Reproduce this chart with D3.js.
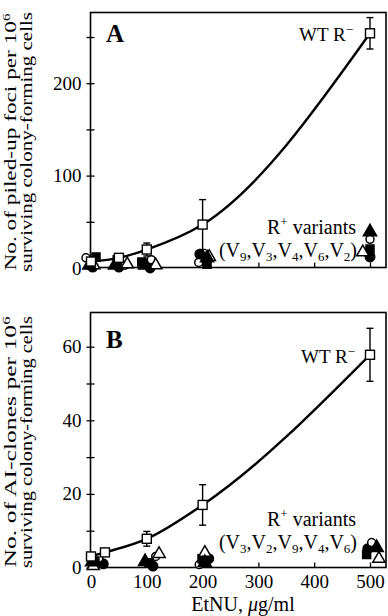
<!DOCTYPE html>
<html>
<head>
<meta charset="utf-8">
<script src="https://d3js.org/d3.v7.min.js"></script>
<style>
  body { margin: 0; background: white; }
  svg { font-family: "Liberation Serif", "Times New Roman", serif; }
</style>
</head>
<body>
<svg id="chart" width="388" height="616"></svg>
<script>
// x ticks (EtNU dose)
const xTicks = [0, 100, 200, 300, 400, 500];

// panel A: piled-up foci, wild type R-
const wtA_dose = [0, 50, 100, 200, 500];
const wtA_val = [7, 11, 20, 47, 254];
const wtA_err = [0, 0, 7, 27, 17];
const yTicksA = [0, 50, 100, 150, 200, 250];
const yLabelsA = [0, 100, 200];

// panel A: R+ variants  [dose, value]
const varA_fc = [[3, 1], [50, 1], [106, 0], [195, 15], [500, 12]];
const varA_oc = [[-9, 11], [61, 3], [108, 9], [193, 6], [500, 31]];
const varA_fs = [[9, 12], [47, 9], [91, 6.5], [208, 4], [500, 20.5]];
const varA_ot = [[5, 3], [65, 4], [116, 3], [212, 12], [487, 17]];
const varA_ft = [[-3, 3], [43, 3], [97, 3], [208, 11], [500, 39]];

// panel B: AI-clones, wild type R-
const wtB_dose = [0, 25, 100, 200, 500];
const wtB_val = [3, 4.1, 7.8, 17, 57.8];
const wtB_err = [0, 0, 2, 5.5, 7.2];
const yTicksB = [0, 10, 20, 30, 40, 50, 60];
const yLabelsB = [0, 20, 40, 60];

// panel B: R+ variants
const varB_fc = [[22, 1], [111, 0.4], [211, 2.4], [496, 5.1]];
const varB_oc = [[14, 2.6], [116, 3], [194, 0.8], [503, 6.8]];
const varB_fs = [[7, 1.8], [104, 1.3], [199, 2.4], [494, 3.5]];
const varB_ot = [[4, 0.4], [122, 3.7], [204, 4], [516, 2.4]];
const varB_ft = [[2, 1.5], [97, 1.6], [204, 1.3], [512, 5.4]];

const svg = d3.select("#chart");
const x = d3.scaleLinear().domain([0, 500]).range([91, 370]);

function panel(opt) {
  const y = d3.scaleLinear().domain(opt.ydom).range(opt.yrange);
  const g = svg.append("g");

  // frame
  g.append("rect")
    .attr("x", 90.5).attr("y", opt.top)
    .attr("width", 386 - 90.5).attr("height", opt.bottom - opt.top)
    .attr("fill", "none").attr("stroke", "black").attr("stroke-width", 1.6);

  // y axis
  const ya = g.append("g").attr("transform", "translate(90.5,0)")
    .call(d3.axisLeft(y).tickValues(opt.yticks)
      .tickFormat(d => opt.ylabels.includes(d) ? d : "")
      .tickSizeInner(4).tickSizeOuter(0).tickPadding(5));
  ya.select(".domain").remove();
  ya.selectAll(".tick line").attr("x1", 4).attr("stroke-width", 1.3);
  ya.selectAll("text").attr("font-size", 19).attr("font-family", "Liberation Serif").attr("fill", "black");

  // x axis
  const xa = g.append("g").attr("transform", `translate(0,${opt.bottom})`)
    .call(d3.axisBottom(x).tickValues(xTicks)
      .tickFormat(opt.xlabels ? d => d : "")
      .tickSizeInner(-5).tickSizeOuter(0).tickPadding(7));
  xa.select(".domain").remove();
  xa.selectAll(".tick line").attr("stroke-width", 1.3);
  xa.selectAll("text").attr("font-size", 19).attr("font-family", "Liberation Serif").attr("fill", "black");

  // variants
  const sym = (type, size) => d3.symbol().type(type).size(size)();
  const kinds = [
    [opt.fc, d3.symbolCircle, 70, "black"],
    [opt.oc, d3.symbolCircle, 50, "white"],
    [opt.fs, d3.symbolSquare, 64, "black"],
    [opt.ot, d3.symbolTriangle, 65, "white"],
    [opt.ft, d3.symbolTriangle, 75, "black"]
  ];
  kinds.forEach(([data, type, size, fill]) => {
    g.selectAll(null).data(data).join("path")
      .attr("d", sym(type, size))
      .attr("transform", d => `translate(${x(d[0])},${y(d[1])})`)
      .attr("fill", fill).attr("stroke", "black").attr("stroke-width", 1.5);
  });

  // WT curve
  const pts = opt.dose.map((d, i) => [d, opt.val[i], opt.err[i]]);
  g.append("path").datum(pts)
    .attr("d", d3.line().x(d => x(d[0])).y(d => y(d[1])).curve(d3.curveMonotoneX))
    .attr("fill", "none").attr("stroke", "black").attr("stroke-width", 2.4);

  // error bars
  const eb = pts.filter(d => d[2] > 0);
  g.selectAll(null).data(eb).join("line")
    .attr("x1", d => x(d[0])).attr("x2", d => x(d[0]))
    .attr("y1", d => y(d[1] - d[2])).attr("y2", d => y(d[1] + d[2]))
    .attr("stroke", "black").attr("stroke-width", 1.4);
  [-1, 1].forEach(s => {
    g.selectAll(null).data(eb).join("line")
      .attr("x1", d => x(d[0]) - 3.5).attr("x2", d => x(d[0]) + 3.5)
      .attr("y1", d => y(d[1] + s * d[2])).attr("y2", d => y(d[1] + s * d[2]))
      .attr("stroke", "black").attr("stroke-width", 1.4);
  });

  // WT squares
  g.selectAll(null).data(pts).join("rect")
    .attr("x", d => x(d[0]) - 4.5).attr("y", d => y(d[1]) - 4.5)
    .attr("width", 9).attr("height", 9)
    .attr("fill", "white").attr("stroke", "black").attr("stroke-width", 1.4);

  // panel letter
  g.append("text").attr("x", 106).attr("y", opt.letterY)
    .attr("font-size", 25).attr("font-weight", "bold").text(opt.letter);

  // WT R-
  const wt = g.append("text").attr("x", opt.wtX).attr("y", opt.wtY).attr("font-size", 19);
  wt.append("tspan").text("WT R");
  wt.append("tspan").attr("font-size", 13).attr("dy", -7).text("\u2212");

  // R+ variants
  const rv = g.append("text").attr("x", 356).attr("y", opt.rvY).attr("font-size", 20)
    .attr("text-anchor", "end");
  rv.append("tspan").text("R");
  rv.append("tspan").attr("font-size", 13).attr("dy", -8).text("+");
  rv.append("tspan").attr("dy", 8).text(" variants");

  const vl = g.append("text").attr("x", 357).attr("y", opt.rvY + 23).attr("font-size", 20)
    .attr("text-anchor", "end");
  vl.append("tspan").text("(");
  opt.vlist.forEach((v, i) => {
    vl.append("tspan").attr("dy", i === 0 ? 0 : -4).text((i ? "," : "") + "V");
    vl.append("tspan").attr("font-size", 13).attr("dy", 4).text(v);
  });
  vl.append("tspan").attr("dy", -4).text(")");

  // y title, two lines
  const cy = (opt.top + opt.bottom) / 2 + 2;
  const t1 = g.append("text").attr("transform", `translate(16,${cy}) rotate(-90)`)
    .attr("text-anchor", "middle").attr("font-size", 17)
    .attr("textLength", opt.t1len).attr("lengthAdjust", "spacingAndGlyphs");
  t1.append("tspan").text(opt.title1);
  t1.append("tspan").attr("font-size", 11).attr("dy", -6).text("6");
  g.append("text").attr("transform", `translate(32,${cy}) rotate(-90)`)
    .attr("text-anchor", "middle").attr("font-size", 17)
    .attr("textLength", opt.t2len).attr("lengthAdjust", "spacingAndGlyphs")
    .text("surviving colony-forming cells");
}

panel({
  ydom: [0, 250], yrange: [268, 37], top: 12.5, bottom: 267.5,
  yticks: yTicksA, ylabels: yLabelsA, xlabels: false,
  dose: wtA_dose, val: wtA_val, err: wtA_err,
  fc: varA_fc, oc: varA_oc, fs: varA_fs, ot: varA_ot, ft: varA_ft,
  letter: "A", letterY: 42, wtX: 299, wtY: 41, rvY: 234,
  vlist: ["9", "3", "4", "6", "2"],
  title1: "No. of piled-up foci per 10", t1len: 257, t2len: 260
});

panel({
  ydom: [0, 60], yrange: [567.5, 346.7], top: 312.5, bottom: 567.5,
  yticks: yTicksB, ylabels: yLabelsB, xlabels: true,
  dose: wtB_dose, val: wtB_val, err: wtB_err,
  fc: varB_fc, oc: varB_oc, fs: varB_fs, ot: varB_ot, ft: varB_ft,
  letter: "B", letterY: 348, wtX: 301, wtY: 363, rvY: 526,
  vlist: ["3", "2", "9", "4", "6"],
  title1: "No. of AI-clones per 10", t1len: 251, t2len: 252
});

// x title
const xt = svg.append("text").attr("x", 243).attr("y", 611).attr("font-size", 20)
  .attr("text-anchor", "middle");
xt.append("tspan").text("EtNU, ");
xt.append("tspan").attr("font-style", "italic").text("\u03bc");
xt.append("tspan").text("g/ml");
</script>
</body>
</html>
